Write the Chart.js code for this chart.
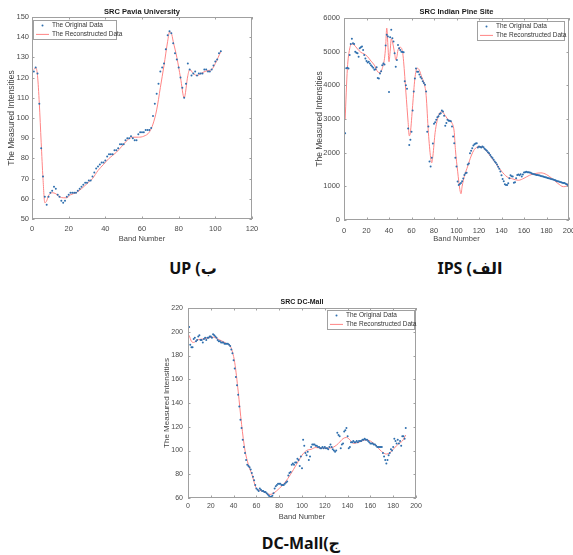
<!DOCTYPE html>
<html>
<head>
<meta charset="utf-8">
<script src="https://cdn.jsdelivr.net/npm/chart.js@4"></script>
<style>
  body { margin: 0; width: 573px; height: 555px; position: relative; background: #fff; overflow: hidden; }
  .fig { position: absolute; }
  .cap { position: absolute; font-family: "Noto Sans", "DejaVu Sans", sans-serif; font-weight: bold; font-size: 16px; color: #111; text-align: center; line-height: 20px; }
</style>
</head>
<body>
<div class="fig" style="left:0;top:0;width:290px;height:248px"><canvas id="upChart"></canvas></div>
<div class="fig" style="left:300px;top:0;width:273px;height:248px"><canvas id="ipsChart"></canvas></div>
<div class="fig" style="left:155px;top:295px;width:270px;height:230px"><canvas id="dcChart"></canvas></div>
<div class="cap" dir="rtl" style="left:143px;top:258px;width:100px">ب) UP</div>
<div class="cap" dir="rtl" style="left:410px;top:258px;width:120px">الف) IPS</div>
<div class="cap" dir="rtl" style="left:236px;top:533px;width:130px">ج)DC-Mall</div>
<script>
// Pavia University, bands 1..103
const UP_ORIGINAL = [123, 125, 122, 107, 85, 71, 61, 57, 61, 63, 64, 66, 65, 62, 61, 59, 58, 59, 61, 62,
  63, 63, 63, 63, 64, 65, 66, 67, 68, 68, 69, 69, 71, 73, 75, 76, 77, 78, 78, 79,
  81, 82, 82, 82, 84, 84, 85, 87, 87, 87, 89, 90, 90, 91, 90, 89, 89, 92, 93, 93,
  93, 94, 94, 94, 95, 101, 107, 112, 117, 123, 125, 127, 134, 141, 143, 142, 137, 132, 129, 125,
  120, 115, 110, 117, 127, 124, 121, 122, 123, 121, 122, 122, 122, 124, 124, 123, 123, 124, 126, 128,
  129, 132, 133];
const UP_RECON_BANDS = [1, 2, 3, 4, 5, 6, 7, 8, 9, 11, 13, 15, 17, 19, 21, 24, 27, 30, 33, 36, 39, 42, 46, 49, 52,
  55, 58, 61, 64, 66, 68, 70, 72, 74, 75, 76, 77, 79, 81, 83, 85, 86, 88, 90, 93, 96, 98, 100, 103];
const UP_RECON = [124, 125, 121, 107, 88, 70, 58, 59, 61.5, 63, 62.5, 61, 60.5, 60.5, 62, 63, 65, 67.5, 70, 74, 77, 80, 83, 86, 89,
  90.5, 90.5, 91, 93, 97, 104, 115, 126, 138, 142.5, 142, 138, 130, 120, 110, 121, 124, 122, 121, 122.5, 123.5, 124, 127, 133];

// Indian Pine Site, bands 1..200
const IPS_ORIGINAL = [2580, 4510, 4520, 4500, 4900, 5230, 5380, 5250, 5230, 5000,
  4970, 4950, 4850, 5100, 5130, 5150, 5050, 4900, 4800, 4720,
  4680, 4700, 4650, 4600, 4560, 4520, 4460, 4480, 4540, 4220,
  4200, 4350, 4420, 4600, 4650, 4620, 5180, 5500, 5450, 3800,
  5430, 5650, 5400, 5300, 4950, 4550, 4750, 5200, 5100, 5050,
  5000, 4990, 4980, 4120, 4000, 3900, 2720, 2230, 2380, 2620,
  3250, 3820, 4200, 4500, 4400, 4400, 4320, 4250, 4200, 4120,
  4070, 4020, 3820, 2620, 2780, 1740, 1590, 1850, 2270, 2860,
  2900, 2980, 3050, 3080, 3150, 3170, 3250, 3220, 3100, 2800,
  2880, 2980, 2950, 2950, 2930, 2780, 2480, 2280, 1850, 1590,
  1140, 1040, 1070, 1100, 1150, 1230, 1340, 1390, 1400, 1650,
  1680, 1980, 2060, 2130, 2210, 2250, 2270, 2280, 2150, 2180,
  2170, 2150, 2180, 2160, 2120, 2090, 2060, 2010, 1980, 1930,
  1880, 1840, 1790, 1740, 1700, 1650, 1580, 1520, 1440, 1330,
  1220, 1150, 1060, 1040, 1040, 1090, 1240, 1330, 1300, 1290,
  1110, 1120, 1240, 1340, 1350, 1330, 1360, 1290, 1350, 1410,
  1420, 1430, 1420, 1420, 1410, 1400, 1380, 1370, 1360, 1350,
  1340, 1340, 1330, 1320, 1310, 1300, 1290, 1280, 1270, 1260,
  1250, 1240, 1230, 1220, 1210, 1200, 1190, 1180, 1160, 1150,
  1140, 1130, 1120, 1110, 1100, 1100, 1080, 1060, 1040, 1030];
const IPS_RECON_BANDS = [1, 3, 5, 7, 9, 12, 15, 18, 21, 24, 27, 30, 32, 34, 36, 37, 38, 39, 40, 41,
  42, 43, 45, 46, 47, 48, 50, 52, 53, 55, 57, 58, 59, 61, 63, 65, 67, 69, 71, 73,
  75, 77, 78, 79, 81, 84, 87, 90, 93, 96, 98, 99, 101, 103, 104, 105, 107, 110, 113, 116,
  120, 123, 127, 131, 135, 140, 145, 150, 155, 160, 165, 170, 175, 180, 185, 190, 195, 198, 200];
const IPS_RECON = [2980, 4500, 5080, 5230, 5200, 5080, 4980, 4930, 4850, 4720, 4600, 4400, 4380, 4500, 4800, 5150, 5700, 5200, 4700, 5000,
  5380, 5300, 4950, 4760, 4850, 5050, 5130, 5000, 4700, 3800, 2900, 2500, 2600, 3400, 4200, 4510, 4450, 4250, 4080, 3700,
  2600, 1850, 1700, 1900, 2600, 3100, 3220, 3100, 2960, 2880, 2600, 2100, 1450, 900, 780, 1000, 1300, 1600, 1900, 2100,
  2180, 2170, 2030, 1860, 1680, 1450, 1280, 1220, 1180, 1240, 1330, 1380, 1400, 1350, 1230, 1090, 990, 1010, 1150];

// DC-Mall, bands 1..191
const DC_ORIGINAL = [204, 189, 187, 187, 194, 195, 192, 193, 196, 197,
  193, 193, 191, 194, 195, 193, 195, 195, 196, 196,
  195, 198, 197, 196, 195, 193, 192, 192, 191, 191,
  191, 190, 190, 190, 190, 189, 188, 185, 182, 176,
  169, 162, 155, 147, 137, 126, 119, 109, 103, 98,
  92, 88, 87, 86, 84, 81, 78, 75, 71, 68,
  67, 66, 68, 67, 66, 66, 65, 65, 64, 63,
  62, 61, 61, 62, 64, 68, 70, 71, 72, 72,
  72, 71, 71, 71, 72, 73, 74, 79, 81, 82,
  88, 89, 88, 90, 90, 93, 92, 87, 95, 85,
  109, 104, 98, 96, 99, 92, 95, 103, 105, 105,
  105, 104, 104, 103, 103, 102, 102, 103, 102, 103,
  102, 102, 101, 103, 105, 103, 101, 100, 99, 100,
  115, 113, 112, 102, 105, 106, 116, 117, 119, 112,
  102, 103, 107, 107, 108, 107, 107, 108, 107, 108,
  108, 108, 109, 109, 110, 109, 109, 108, 107, 106,
  106, 106, 105, 105, 104, 103, 103, 103, 103, 103,
  98, 95, 92, 89, 92, 96, 98, 101, 100, 103,
  110, 108, 106, 109, 106, 108, 104, 112, 112, 110,
  119];
const DC_RECON_BANDS = [1, 3, 5, 8, 14, 22, 28, 34, 37, 39, 41, 44, 47, 50, 53, 56, 60, 63, 67, 72,
  75, 80, 85, 90, 95, 100, 104, 108, 112, 118, 124, 128, 132, 136, 139, 142, 145, 150, 156, 160,
  165, 170, 174, 177, 181, 185, 188, 191];
const DC_RECON = [197, 192, 191, 193, 194, 195.5, 193, 190, 188, 183, 174, 150, 122, 100, 88, 80, 68, 66.5, 65, 63,
  64, 68, 73, 80, 88, 96, 100, 101, 102.5, 102, 102, 103, 106, 110, 111, 109, 106, 107, 109, 108,
  104, 99, 97, 98, 102, 106, 108, 113];

const LEGEND_LABELS = ["The Original Data", "The Reconstructed Data"];
const DOT_COLOR = "#2f6fae";
const LINE_COLOR = "#ff8585";
const TEXT_FONT = "'Liberation Sans', Arial, sans-serif";

const matlabFrame = {
  id: "matlabFrame",
  afterDraw(chart, args, opts) {
    const { ctx, chartArea: a, scales } = chart;
    ctx.save();
    ctx.strokeStyle = "#a0a0a0";
    ctx.lineWidth = 1;
    ctx.strokeRect(a.left + 0.5, a.top + 0.5, a.right - a.left - 1, a.bottom - a.top - 1);

    ctx.beginPath();
    scales.x.ticks.forEach((t) => {
      const px = Math.round(scales.x.getPixelForValue(t.value)) + 0.5;
      ctx.moveTo(px, a.bottom); ctx.lineTo(px, a.bottom - 2.5);
      ctx.moveTo(px, a.top); ctx.lineTo(px, a.top + 2.5);
    });
    scales.y.ticks.forEach((t) => {
      const py = Math.round(scales.y.getPixelForValue(t.value)) + 0.5;
      ctx.moveTo(a.left, py); ctx.lineTo(a.left + 2.5, py);
      ctx.moveTo(a.right, py); ctx.lineTo(a.right - 2.5, py);
    });
    ctx.stroke();

    // title
    ctx.fillStyle = "#1a1a1a";
    ctx.font = `bold ${opts.titleSize}px ${TEXT_FONT}`;
    ctx.textAlign = "center";
    ctx.textBaseline = "middle";
    ctx.fillText(opts.title, (a.left + a.right) / 2, a.top - opts.titleGap);

    // legend box
    const lg = opts.legend;
    const bx = lg.align === "right" ? a.right - lg.offX - lg.w : a.left + lg.offX;
    const by = a.top + lg.offY;
    ctx.fillStyle = "#fff";
    ctx.fillRect(bx, by, lg.w, lg.h);
    ctx.strokeStyle = "#a0a0a0";
    ctx.strokeRect(bx + 0.5, by + 0.5, lg.w - 1, lg.h - 1);

    const r1 = by + lg.h * 0.28;
    const r2 = by + lg.h * 0.72;
    ctx.fillStyle = DOT_COLOR;
    ctx.beginPath();
    ctx.arc(bx + 9.5, r1, 1, 0, Math.PI * 2);
    ctx.fill();
    ctx.strokeStyle = LINE_COLOR;
    ctx.beginPath();
    ctx.moveTo(bx + 3, r2); ctx.lineTo(bx + 16, r2);
    ctx.stroke();

    ctx.fillStyle = "#333";
    ctx.font = `${lg.font}px ${TEXT_FONT}`;
    ctx.textAlign = "left";
    ctx.fillText(LEGEND_LABELS[0], bx + 19, r1);
    ctx.fillText(LEGEND_LABELS[1], bx + 19, r2);
    ctx.restore();
  }
};

function makeChart(id, cfg) {
  const original = cfg.original.map((v, i) => ({ x: i + 1, y: v }));
  const recon = cfg.reconBands.map((b, i) => ({ x: b, y: cfg.recon[i] }));
  const tickFont = { family: TEXT_FONT, size: cfg.tickSize };
  return new Chart(document.getElementById(id), {
    type: "scatter",
    data: {
      datasets: [
        {
          label: LEGEND_LABELS[1],
          type: "line",
          data: recon,
          borderColor: LINE_COLOR,
          borderWidth: 1,
          pointRadius: 0,
          cubicInterpolationMode: "monotone",
          fill: false,
          order: 2
        },
        {
          label: LEGEND_LABELS[0],
          data: original,
          backgroundColor: DOT_COLOR,
          borderWidth: 0,
          pointRadius: 1,
          order: 1
        }
      ]
    },
    options: {
      responsive: true,
      maintainAspectRatio: false,
      animation: false,
      layout: { padding: { left: 0, top: cfg.padTop, right: cfg.padRight, bottom: 0 } },
      plugins: {
        legend: { display: false },
        tooltip: { enabled: false },
        matlabFrame: {
          title: cfg.title,
          titleSize: cfg.titleSize,
          titleGap: cfg.titleGap,
          legend: cfg.legend
        }
      },
      scales: {
        x: {
          type: "linear",
          min: cfg.xMin, max: cfg.xMax,
          grid: { display: false, drawTicks: false },
          border: { display: false },
          ticks: { stepSize: cfg.xStep, color: "#4a4a4a", font: tickFont, padding: cfg.xTickPad, maxRotation: 0, callback: (v) => String(v) },
          title: { display: true, text: "Band Number", color: "#444", font: { family: TEXT_FONT, size: cfg.xTitleSize }, padding: { top: 0, bottom: cfg.xTitlePad } },
          afterFit: (s) => { s.height = cfg.xHeight; s.paddingLeft = 0; s.paddingRight = 0; }
        },
        y: {
          type: "linear",
          min: cfg.yMin, max: cfg.yMax,
          grid: { display: false, drawTicks: false },
          border: { display: false },
          ticks: { stepSize: cfg.yStep, color: "#4a4a4a", font: tickFont, padding: cfg.yTickPad, callback: (v) => String(v) },
          title: { display: true, text: "The Measured Intensities", color: "#444", font: { family: TEXT_FONT, size: cfg.yTitleSize }, padding: { top: cfg.yTitlePad, bottom: 0 } },
          afterFit: (s) => { s.width = cfg.yWidth; s.paddingTop = 0; s.paddingBottom = 0; }
        }
      }
    },
    plugins: [matlabFrame]
  });
}

makeChart("upChart", {
  original: UP_ORIGINAL, reconBands: UP_RECON_BANDS, recon: UP_RECON,
  title: "SRC Pavia University", titleSize: 7.5, titleGap: 5.5,
  xMin: 0, xMax: 120, xStep: 20, yMin: 50, yMax: 150, yStep: 10,
  padTop: 17, padRight: 38, xHeight: 29, yWidth: 32,
  tickSize: 7.5, xTickPad: 5, yTickPad: 3,
  xTitleSize: 7.5, xTitlePad: 4.5, yTitleSize: 8.5, yTitlePad: 7,
  legend: { align: "left", offX: 1, offY: 3, w: 84, h: 20, font: 6.5 }
});

makeChart("ipsChart", {
  original: IPS_ORIGINAL, reconBands: IPS_RECON_BANDS, recon: IPS_RECON,
  title: "SRC Indian Pine Site", titleSize: 7.5, titleGap: 6.5,
  xMin: 0, xMax: 200, xStep: 20, yMin: 0, yMax: 6000, yStep: 1000,
  padTop: 18, padRight: 0, xHeight: 28, yWidth: 44,
  tickSize: 7.5, xTickPad: 6, yTickPad: 4,
  xTitleSize: 7.5, xTitlePad: 4.5, yTitleSize: 8.5, yTitlePad: 15,
  legend: { align: "right", offX: 4, offY: 3, w: 88, h: 20, font: 6.5 }
});

makeChart("dcChart", {
  original: DC_ORIGINAL, reconBands: DC_RECON_BANDS, recon: DC_RECON,
  title: "SRC DC-Mall", titleSize: 7, titleGap: 6,
  xMin: 0, xMax: 200, xStep: 20, yMin: 60, yMax: 220, yStep: 20,
  padTop: 13, padRight: 9, xHeight: 27, yWidth: 33,
  tickSize: 7, xTickPad: 4, yTickPad: 5,
  xTitleSize: 7.5, xTitlePad: 3.5, yTitleSize: 8, yTitlePad: 7,
  legend: { align: "right", offX: 1, offY: 2, w: 88, h: 20, font: 6.5 }
});
</script>
</body>
</html>
